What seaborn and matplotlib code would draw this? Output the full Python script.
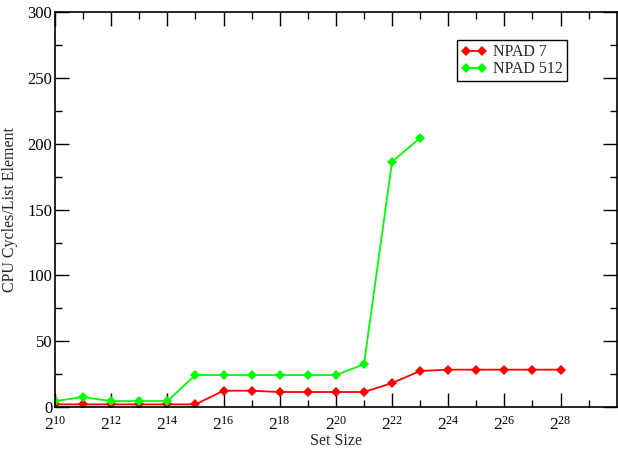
import numpy as np
import pandas as pd
import matplotlib
matplotlib.use("Agg")
import matplotlib.pyplot as plt
import seaborn as sns
from matplotlib.ticker import FixedLocator, FuncFormatter, MultipleLocator, NullFormatter

# set sizes as powers of two
exp_npad7 = list(range(10, 29))
cycles_npad7 = [2, 2, 2, 2, 2, 2, 12.4, 12.4, 11.4, 11.4, 11.4, 11.4,
                18.2, 27.4, 28.4, 28.4, 28.4, 28.4, 28.4]
exp_npad512 = list(range(10, 24))
cycles_npad512 = [4.5, 7.6, 4.5, 4.5, 4.5, 24.3, 24.3, 24.3, 24.3, 24.3,
                  24.3, 32.5, 186.5, 204.5]
series_names = ["NPAD 7", "NPAD 512"]
colors = ["#ff0000", "#00ff00"]

df = pd.concat([
    pd.DataFrame({"size": [2.0 ** e for e in exp_npad7], "cycles": cycles_npad7, "series": series_names[0]}),
    pd.DataFrame({"size": [2.0 ** e for e in exp_npad512], "cycles": cycles_npad512, "series": series_names[1]}),
], ignore_index=True)

sns.set_style("ticks")
plt.rcParams["font.family"] = ["Liberation Serif", "DejaVu Serif"]
plt.rcParams["mathtext.fontset"] = "custom"
plt.rcParams["mathtext.rm"] = "Liberation Serif"
plt.rcParams["mathtext.it"] = "Liberation Serif"

fig = plt.figure(figsize=(6.18, 4.49), dpi=100)
ax = fig.add_axes([0.089, 0.0935, 0.909, 0.879])

sns.lineplot(data=df, x="size", y="cycles", hue="series", palette=colors,
             marker="D", markersize=5.5, markeredgewidth=0, linewidth=1.3,
             ax=ax)

ax.set_xscale("log", base=2)
ax.set_xlim(2 ** 10, 2 ** 30)
ax.set_ylim(0, 300)
ax.xaxis.set_major_locator(FixedLocator([2.0 ** e for e in range(10, 30, 2)]))
ax.xaxis.set_minor_locator(FixedLocator([2.0 ** e for e in range(11, 30, 2)]))
ax.xaxis.set_major_formatter(FuncFormatter(
    lambda v, p: "" if v > 2 ** 28.5 else r"$2^{%d}$" % round(np.log2(v))))
ax.xaxis.set_minor_formatter(NullFormatter())
ax.yaxis.set_major_locator(MultipleLocator(50))
ax.yaxis.set_minor_locator(MultipleLocator(25))

ax.tick_params(which="both", direction="in", top=True, right=True,
               colors="black", labelsize=12)
ax.tick_params(which="major", length=10, width=1)
ax.tick_params(which="minor", length=5, width=1)
ax.tick_params(axis="x", which="major", labelsize=12.5, pad=6)
ax.tick_params(axis="y", which="major", pad=2)
for s in ax.spines.values():
    s.set_linewidth(1.2)
    s.set_color("black")

ax.set_xlabel("Set Size", fontsize=11.5, labelpad=-0.5)
ax.set_ylabel("CPU Cycles/List Element", fontsize=11.5, labelpad=7)

leg = ax.legend(loc="upper right", bbox_to_anchor=(0.911, 0.929),
                borderaxespad=0, fontsize=11.5, numpoints=2, fancybox=False,
                frameon=True, edgecolor="black", framealpha=1,
                handlelength=1.6, handletextpad=0.4, borderpad=0.25,
                labelspacing=0.05)
leg.get_frame().set_linewidth(1)

fig.savefig("out.png", dpi=100)
